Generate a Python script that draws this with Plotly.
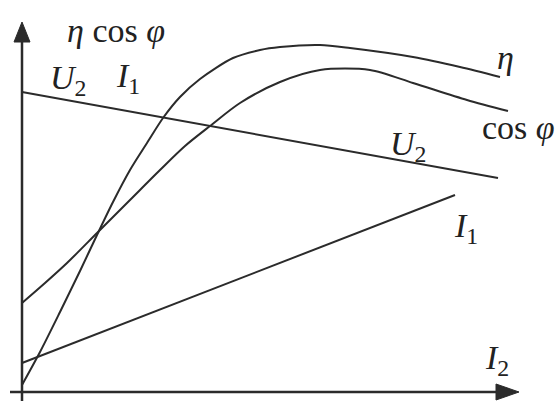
import plotly.graph_objects as go

# load current I2 (arbitrary units) and the characteristic curves
eta_x = [0, 18, 38, 58, 75, 91, 108, 125, 141, 158, 178, 211, 238, 258, 298, 328, 391, 438, 478]
eta_y = [7, 40, 80, 121, 157, 190, 222, 249, 274, 295, 313, 334, 342, 345, 347, 344, 335, 325, 315]

cos_x = [0, 23, 45, 75, 108, 138, 163, 188, 218, 258, 298, 348, 391, 445, 486]
cos_y = [89, 109, 129, 159, 192, 222, 246, 266, 289, 310, 322, 322, 309, 292, 281]

u2_x = [0, 476]
u2_y = [300, 214]

i1_x = [0, 433]
i1_y = [29, 197]

LINE = "#2b2b2b"
FONT = "Liberation Serif, Times New Roman, serif"

fig = go.Figure()
for xs, ys in [(eta_x, eta_y), (cos_x, cos_y), (u2_x, u2_y), (i1_x, i1_y)]:
    fig.add_trace(go.Scatter(x=xs, y=ys, mode="lines", line=dict(color=LINE, width=2, shape="spline", smoothing=0.8),
                             hoverinfo="skip", showlegend=False))

# axes with arrows
fig.add_shape(type="line", x0=0, y0=-10, x1=0, y1=352, line=dict(color=LINE, width=2.5))
fig.add_shape(type="line", x0=-12, y0=0, x1=478, y1=0, line=dict(color=LINE, width=2.5))
fig.add_shape(type="path", path="M -8,350 L 8,350 L 0,370 Z", fillcolor=LINE, line=dict(color=LINE, width=1))
fig.add_shape(type="path", path="M 474,-8 L 474,8 L 497,0 Z", fillcolor=LINE, line=dict(color=LINE, width=1))

labels = [
    ("<i>η</i> cos <i>φ</i>", 94, 362),
    ("<i>U</i><sub>2</sub>", 46, 312),
    ("<i>I</i><sub>1</sub>", 106, 314),
    ("<i>η</i>", 483, 335),
    ("cos <i>φ</i>", 496, 265),
    ("<i>U</i><sub>2</sub>", 386, 246),
    ("<i>I</i><sub>1</sub>", 444, 164),
    ("<i>I</i><sub>2</sub>", 475, 32),
]
for txt, x, y in labels:
    fig.add_annotation(x=x, y=y, xref="x", yref="y", text=txt, showarrow=False,
                       font=dict(family=FONT, size=34, color="#222"))

fig.update_xaxes(range=[-22, 535], visible=False)
fig.update_yaxes(range=[-9, 392], visible=False)
fig.update_layout(width=557, height=401, margin=dict(l=0, r=0, t=0, b=0),
                  plot_bgcolor="white", paper_bgcolor="white")

fig.write_html("out.html", config={"displayModeBar": False},
               post_script="document.body.style.margin='0';document.body.style.overflow='hidden';")
